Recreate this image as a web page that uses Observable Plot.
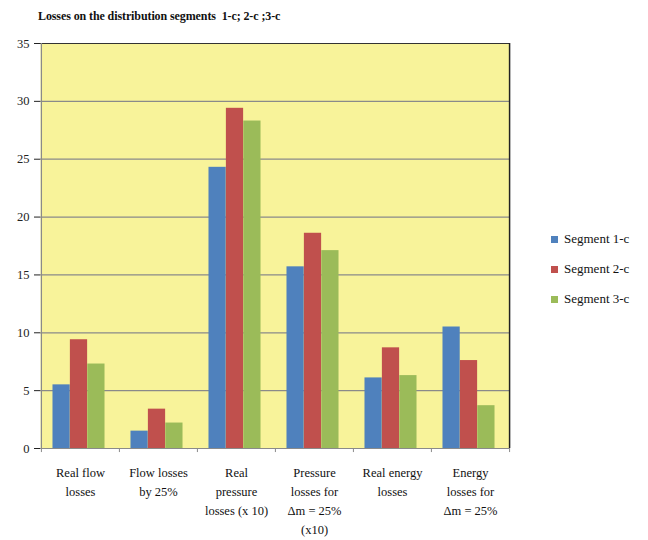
<!DOCTYPE html>
<html><head><meta charset="utf-8">
<script src="https://cdn.jsdelivr.net/npm/d3@7"></script>
<script src="https://cdn.jsdelivr.net/npm/@observablehq/plot@0.6"></script>
<style>
body{margin:0;background:#fff;}
#wrap{position:relative;width:648px;height:540px;font-family:"Liberation Serif","Times New Roman",serif;color:#111;}
#chart{position:absolute;left:0;top:0;}
#title{position:absolute;left:38px;top:9px;font-weight:bold;font-size:12px;letter-spacing:-0.1px;white-space:pre;}
#legend{position:absolute;left:551px;top:224px;font-size:13px;}
.item{display:flex;align-items:center;height:30px;white-space:nowrap;}
.sw{width:7px;height:7px;margin-right:6px;}
</style></head><body>
<div id="wrap"><div id="chart"></div><div id="title"></div><div id="legend"></div></div>
<script>
const title = "Losses on the distribution segments  1-c; 2-c ;3-c";
const categories = ["Real flow losses","Flow losses by 25%","Real pressure losses (x10)","Pressure losses for Δm = 25% (x10)","Real energy losses","Energy losses for Δm = 25%"];
const tickLabels = ["Real flow\nlosses","Flow losses\nby 25%","Real\npressure\nlosses (x 10)","Pressure\nlosses for\nΔm = 25%\n(x10)","Real energy\nlosses","Energy\nlosses for\nΔm = 25%"];
const seriesNames = ["Segment 1-c","Segment 2-c","Segment 3-c"];
const segment1 = [5.5, 1.5, 24.3, 15.7, 6.1, 10.5];
const segment2 = [9.4, 3.4, 29.4, 18.6, 8.7, 7.6];
const segment3 = [7.3, 2.2, 28.3, 17.1, 6.3, 3.7];
const seriesColors = ["#4F81BD","#C0504D","#9BBB59"];
const yTicks = [0, 5, 10, 15, 20, 25, 30, 35];

const W = 648, H = 540, mL = 40, mR = 139, mT = 43, mB = 92;
const step = (W - mL - mR) / categories.length;
const barW = 17.4;
const inset = (step - barW) / 2;
const seriesValues = [segment1, segment2, segment3];
const labelRows = categories.map((c, i) => ({cat: c, label: tickLabels[i]}));

const barMarks = seriesValues.map((vals, k) =>
  Plot.barY(categories.map((c, i) => ({cat: c, value: vals[i]})), {
    x: "cat", y: "value", fill: seriesColors[k],
    insetLeft: inset, insetRight: inset, dx: (k - 1) * barW - 1.5
  })
);

const chart = Plot.plot({
  width: W, height: H,
  marginLeft: mL, marginRight: mR, marginTop: mT, marginBottom: mB,
  style: {fontFamily: "'Liberation Serif', serif", fontSize: "12.5px", background: "transparent", color: "#222"},
  x: {domain: categories, padding: 0, axis: null},
  y: {domain: [0, 35], ticks: yTicks, tickSize: 6, tickPadding: 5, label: null},
  marks: [
    Plot.frame({fill: "#F8F39A", stroke: "none"}),
    Plot.ruleY(yTicks.filter(t => t > 0 && t < 35), {stroke: "#8a8a8a", strokeWidth: 1.2}),
    ...barMarks,
    Plot.ruleY([35], {stroke: "#333", strokeWidth: 1.2}),
    Plot.ruleY([0], {stroke: "#8a8a8a", strokeWidth: 1.2}),
    Plot.ruleX([categories[0]], {dx: -step / 2, stroke: "#8a8a8a", strokeWidth: 1.2}),
    Plot.ruleX([categories[categories.length - 1]], {dx: step / 2, stroke: "#222", strokeWidth: 1.5}),
    Plot.ruleX(categories, {y1: 0, y2: -0.35, dx: -step / 2, stroke: "#8a8a8a"}),
    Plot.ruleX([categories[categories.length - 1]], {y1: 0, y2: -0.35, dx: step / 2, stroke: "#8a8a8a"}),
    Plot.text(labelRows, {x: "cat", text: "label", frameAnchor: "bottom", dy: 15, lineAnchor: "top", lineHeight: 1.52, fill: "#111"})
  ]
});
document.getElementById("chart").appendChild(chart);
document.getElementById("title").textContent = title;
const leg = document.getElementById("legend");
seriesNames.forEach((n, k) => {
  const d = document.createElement("div"); d.className = "item";
  const s = document.createElement("span"); s.className = "sw"; s.style.background = seriesColors[k];
  const t = document.createElement("span"); t.textContent = n;
  d.appendChild(s); d.appendChild(t); leg.appendChild(d);
});
</script>
</body></html>
